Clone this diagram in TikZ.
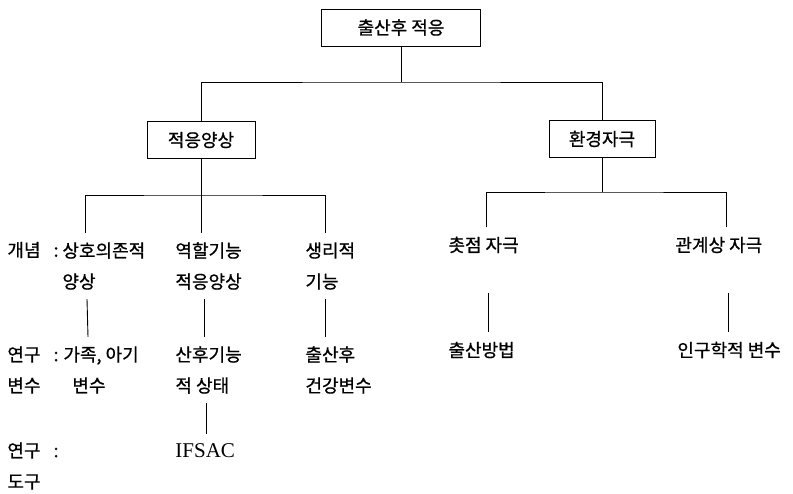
\documentclass[tikz,border=0pt]{standalone}
\usepackage{fontspec}
\newfontfamily\kr[FakeBold=0.8]{Noto Sans CJK KR}
\newfontfamily\lat{Liberation Serif}
\usetikzlibrary{positioning}

\begin{document}
\begin{tikzpicture}[x=1pt,y=-1pt,line width=0.9pt]
	  \tikzstyle{box}=[rectangle,draw=black,inner sep=0pt,minimum height=37pt,font=\kr\fontsize{18}{31}\selectfont]
	  \tikzstyle{item}=[anchor=west,align=left,inner xsep=0pt,inner ysep=9pt,font=\kr\fontsize{18}{31}\selectfont]
	  \tikzstyle{latin}=[item,font=\lat\fontsize{21}{25}\selectfont]

	  \useasboundingbox (0,0) rectangle (793,494);

	  \node[box,minimum width=159pt] (root) at (401,27.5) {출산후 적응};
	  \node[box,minimum width=108pt] (adapt) at (201,140) {적응양상};
	  \node[box,minimum width=106pt] (env) at (602,139) {환경자극};

	  \node[item] (concept) at (7,250) {개념\hspace{13pt}:};
	  \node[item] (resvar) at (7,370) {연구\hspace{13pt}:\\변수};
	  \node[item] (tool) at (7,466) {연구\hspace{13pt}:\\도구};

	  \node[item] (mutual) at (62,266) {상호의존적\\양상};
	  \node[item] (family) at (63,370) {가족, 아기\\\hspace*{9pt}변수};
	  \node[item] (role) at (175,266) {역할기능\\적응양상};
	  \node[item] (state) at (175,370) {산후기능\\적 상태};
	  \node[latin] (ifsac) at (175,451) {IFSAC};
	  \node[item] (physio) at (305,266) {생리적\\기능};
	  \node[item] (health) at (305,370) {출산후\\건강변수};

	  \node[item] (focal) at (448,245) {촛점 자극};
	  \node[item] (birth) at (448,350) {출산방법};
	  \node[item] (relation) at (675,245) {관계상 자극};
	  \node[item] (demog) at (677,350) {인구학적 변수};

	  \coordinate (top) at (401,82);
	  \coordinate (lbar) at (201,195);
	  \coordinate (rbar) at (602,192);

	  \draw (root.south) -- (top);
	  \draw (adapt.north) |- (top) -| (env.north);

	  \draw (adapt.south) -- (adapt.south |- role.north);
	  \draw ([xshift=23pt]mutual.north west) |- (lbar) -| ([xshift=20pt]physio.north west);
	  \draw ([xshift=25pt]mutual.south west) -- ([xshift=25pt]family.north west);
	  \draw ([xshift=29pt]role.south west) -- ([xshift=29pt]state.north west);
	  \draw ([xshift=31pt]state.south west) -- ([xshift=31pt]ifsac.north west);
	  \draw ([xshift=20pt]physio.south west) -- ([xshift=20pt]health.north west);

	  \draw (env.south) -- (rbar);
	  \draw ([xshift=38pt]focal.north west) |- (rbar) -| ([xshift=51pt]relation.north west);
	  \draw[shorten <=30pt] ([xshift=40pt]focal.south west) -- ([xshift=40pt]birth.north west);
	  \draw[shorten <=30pt] ([xshift=53pt]relation.south west) -- ([xshift=51pt]demog.north west);
	\end{tikzpicture}
\end{document}
